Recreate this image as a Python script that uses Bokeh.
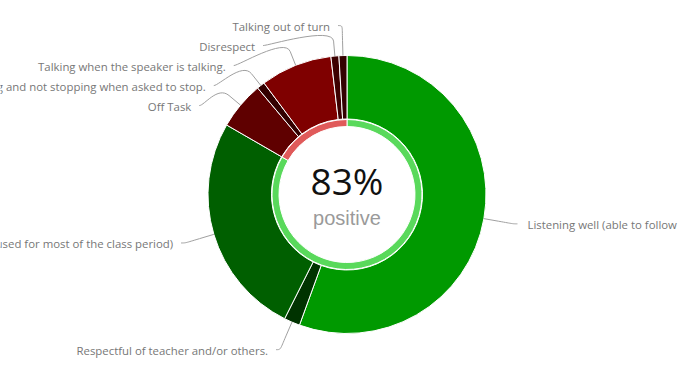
import numpy as np
from bokeh.plotting import figure
from bokeh.models import Range1d
from bokeh.embed import file_html
from bokeh.resources import INLINE
from bokeh.core.properties import value

# ---------------- data ----------------
categories = [
    "Listening well (able to follow",
    "Respectful of teacher and/or others.",
    "On task (stayed focused for most of the class period)",
    "Off Task",
    "Talking and not stopping when asked to stop.",
    "Talking when the speaker is talking.",
    "Disrespect",
    "Talking out of turn",
]
counts = [60, 2, 28, 6, 1, 9, 1, 1]
positive = [True, True, True, False, False, False, False, False]
colors = ["#009900", "#003300", "#005f00", "#5f0000", "#330000", "#7f0000", "#3d0000", "#330000"]
ring_colors = ["#59d95b", "#e05a5a"]
center_label = "positive"

# ---------------- geometry ----------------
W, H = 692, 376
CX, CY = 346.5, H - 194
R_OUT, R_IN = 139, 75.5
RING_OUT, RING_IN = 75, 68
LABEL_D, CONN_OFF = 30, 15

counts_a = np.array(counts, dtype=float)
total = counts_a.sum()
cum = np.concatenate([[0], np.cumsum(counts_a)]) / total * 2 * np.pi
th_s, th_e = cum[:-1], cum[1:]          # clockwise from top
pos_share = counts_a[np.array(positive)].sum() / total
pct_text = f"{round(pos_share * 100)}%"

p = figure(width=W, height=H, output_backend="svg", toolbar_location=None,
           x_range=Range1d(0, W), y_range=Range1d(0, H),
           x_axis_location=None, y_axis_location=None,
           min_border=0, min_border_left=0, min_border_right=0,
           min_border_top=0, min_border_bottom=0)
p.grid.visible = False
p.outline_line_color = None
p.background_fill_color = "white"
p.border_fill_color = "white"

# outer donut
p.annular_wedge(x=CX, y=CY, inner_radius=R_IN, outer_radius=R_OUT,
                start_angle=np.pi / 2 - th_e, end_angle=np.pi / 2 - th_s,
                fill_color=colors, line_color="white", line_width=1)

# inner ring (positive vs negative)
ring_s = np.array([0, pos_share * 2 * np.pi])
ring_e = np.array([pos_share * 2 * np.pi, 2 * np.pi])
p.annular_wedge(x=CX, y=CY, inner_radius=RING_IN, outer_radius=RING_OUT,
                start_angle=np.pi / 2 - ring_e, end_angle=np.pi / 2 - ring_s,
                fill_color=ring_colors, line_color="white", line_width=1)

# ---------------- labels ----------------
mid = (th_s + th_e) / 2
RL = R_OUT + LABEL_D
nat_y = CY + RL * np.cos(mid)
side = np.where(np.sin(mid) < 0, -1, 1)
lab_y = nat_y.copy()
for s in (-1, 1):
    idx = [i for i in np.argsort(-nat_y) if side[i] == s]
    prev = None
    for i in idx:
        y = min(nat_y[i], CY + RL)
        if prev is not None:
            y = min(y, prev - 20)
        lab_y[i] = y
        prev = y
dy = lab_y - CY
lab_x = CX + side * (np.sqrt(np.clip(RL ** 2 - dy ** 2, 0, None)) + 4)

bx = CX + (R_OUT + CONN_OFF) * np.sin(mid)
by = CY + (R_OUT + CONN_OFF) * np.cos(mid)
tx = CX + R_OUT * np.sin(mid)
ty = CY + R_OUT * np.cos(mid)

p.bezier(x0=lab_x, y0=lab_y, x1=bx, y1=by,
         cx0=lab_x - side * 5, cy0=lab_y, cx1=2 * bx - tx, cy1=2 * by - ty,
         line_color="#a0a0a0", line_width=1)
p.segment(x0=bx, y0=by, x1=tx, y1=ty, line_color="#a0a0a0", line_width=1)

for s, align, off in ((-1, "right", -8), (1, "left", 10)):
    m = side == s
    p.text(x=lab_x[m] + off, y=lab_y[m] - 1,
           text=[c for c, k in zip(categories, m) if k],
           text_align=align, text_baseline="middle",
           text_font=value("Open Sans"), text_font_size="11.4px",
           text_color="#777777")

# ---------------- centre text ----------------
p.text(x=[CX], y=[H - 180], text=[pct_text], text_align="center",
       text_baseline="middle", text_font=value("Open Sans"),
       text_font_size="37px", text_color="#111111")
p.text(x=[CX], y=[H - 217], text=[center_label], text_align="center",
       text_baseline="middle", text_font=value("Liberation Sans"),
       text_font_size="20px", text_color="#9a9a9a")

open("out.html", "w").write(file_html(p, INLINE))
